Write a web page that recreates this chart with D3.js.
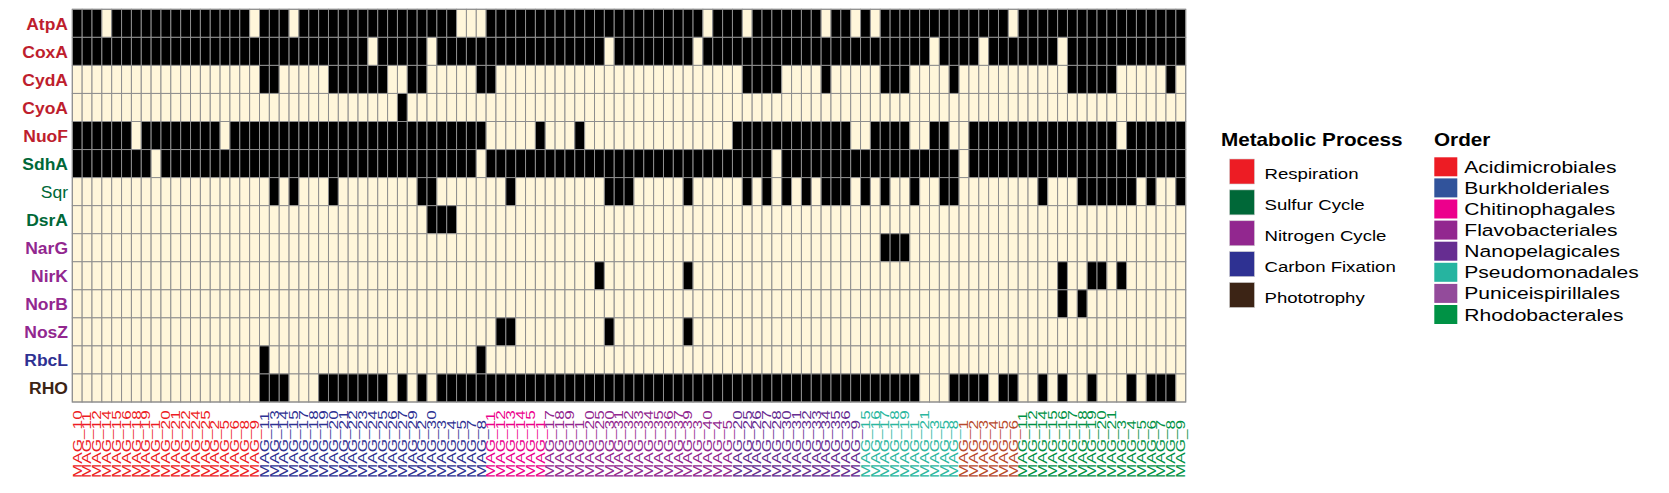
<!DOCTYPE html>
<html>
<head>
<meta charset="utf-8">
<script src="https://cdn.jsdelivr.net/npm/d3@7"></script>
<style>
  body { margin: 0; background: #fff; }
  svg { display: block; }
  text { font-family: "Liberation Sans", Arial, Helvetica, sans-serif; }
</style>
</head>
<body>
<svg id="chart" width="1669" height="493"></svg>
<script>
// genes (rows) and the metabolic process each belongs to
var genes = ["AtpA", "CoxA", "CydA", "CyoA", "NuoF", "SdhA", "Sqr", "DsrA", "NarG", "NirK", "NorB", "NosZ", "RbcL", "RHO"];
var geneProcess = ["Respiration", "Respiration", "Respiration", "Respiration", "Respiration",
                   "Sulfur Cycle", "Sulfur Cycle", "Sulfur Cycle",
                   "Nitrogen Cycle", "Nitrogen Cycle", "Nitrogen Cycle", "Nitrogen Cycle",
                   "Carbon Fixation", "Phototrophy"];

var processes = ["Respiration", "Sulfur Cycle", "Nitrogen Cycle", "Carbon Fixation", "Phototrophy"];
var processColors = ["#ED1C24", "#006838", "#92278F", "#2E3192", "#3C2415"];
var processLabelColors = ["#BE1E2D", "#006838", "#92278F", "#2E3192", "#3C2415"];

var orders = ["Acidimicrobiales", "Burkholderiales", "Chitinophagales", "Flavobacteriales",
              "Nanopelagicales", "Pseudomonadales", "Puniceispirillales", "Rhodobacterales"];
var orderColors = ["#ED1C24", "#31539B", "#EC008C", "#92278F", "#662D91", "#26B4A0", "#934B9B", "#009245"];
var orderLabelColors = ["#ED1C24", "#2E3192", "#EC008C", "#92278F", "#662D91", "#2BB7A0", "#B84A2C", "#009245"];

// MAG labels, one list per order (column order left to right)
var magsByOrder = [
  ["10","11","12","14","15","16","18","19","1","20","21","22","24","25","2","5","6","8","9"],
  ["11","13","14","15","17","18","19","20","21","22","23","24","25","26","27","29","2","30","3","4","5","7","8"],
  ["11","12","13","14","15","1"],
  ["17","18","19","1","20","25","30","31","32","33","34","35","36","37","39","3","40","4","5"],
  ["20","25","26","27","28","30","31","32","33","34","35","36","9"],
  ["15","16","17","18","19","1","21","3","5","8"],
  ["1","2","3","4","5","6"],
  ["11","12","14","15","16","17","18","19","20","21","3","4","5","6","7","8","9"]
];

// presence (1) / absence (0), groups separated by spaces in the order above
var presence = [
  "1110111111111111110 11101111111111111111000 111111 1111111111111111011 1011111110110 1011111111 111110 11111111111111111",
  "1111111111111111111 11111111111011111011111 111111 1111110111111110111 1111111111111 1111111011 110111 11110111111111111",
  "0000000000000000000 11000001111110011000001 100000 0000000000000000000 0111100001000 0011100001 000000 00000111110000010",
  "0000000000000000000 00000000000000100000000 000000 0000000000000000000 0000000000000 0000000000 000000 00000000000000000",
  "1111110111111110111 11111111111111111111111 000001 0001000000000000000 1111111111110 0111100110 011111 11111111110111111",
  "1111111101111111111 11111111111111111111110 111111 1111111111111111111 1111011111111 1111111111 011111 11111111111111111",
  "0000000000000000000 01010001000000001100000 001000 0000001110000010000 0101010101110 1010010011 000000 00100011111101001",
  "0000000000000000000 00000000000000000111000 000000 0000000000000000000 0000000000000 0000000000 000000 00000000000000000",
  "0000000000000000000 00000000000000000000000 000000 0000000000000000000 0000000000000 0011100000 000000 00000000000000000",
  "0000000000000000000 00000000000000000000000 000000 0000010000000010000 0000000000000 0000000000 000000 00001001101000000",
  "0000000000000000000 00000000000000000000000 000000 0000000000000000000 0000000000000 0000000000 000000 00001010000000000",
  "0000000000000000000 00000000000000000000000 011000 0000001000000010000 0000000000000 0000000000 000000 00000000000000000",
  "0000000000000000000 10000000000000000000001 000000 0000000000000000000 0000000000000 0000000000 000000 00000000000000000",
  "0000000000000000000 11100011111110101011111 111111 1111111111111111111 1111111111111 1111110001 111011 00101001000101110"
];

// ---- build columns and cells
var columns = [];
magsByOrder.forEach(function(list, oi) {
  list.forEach(function(n) { columns.push({name: "MAG_" + n, order: oi}); });
});
columns.forEach(function(c, i) { c.i = i; });

var cells = [];
presence.forEach(function(row, gi) {
  row.replace(/ /g, "").split("").forEach(function(v, ci) {
    cells.push({gene: genes[gi], col: ci, value: +v});
  });
});

var svg = d3.select("#chart");

var x = d3.scaleBand().domain(d3.range(columns.length)).range([72.3, 1185.7]);
var y = d3.scaleBand().domain(genes).range([9.3, 402]);
var fill = d3.scaleOrdinal().domain([0, 1]).range(["#FFF6DA", "#000000"]);
var procLabel = d3.scaleOrdinal().domain(processes).range(processLabelColors);

// heatmap cells
svg.append("g").selectAll("rect")
  .data(cells)
  .join("rect")
  .attr("x", function(d) { return x(d.col); })
  .attr("y", function(d) { return y(d.gene); })
  .attr("width", x.bandwidth())
  .attr("height", y.bandwidth())
  .attr("fill", function(d) { return fill(d.value); })
  .attr("stroke", "#8e8e8e")
  .attr("stroke-width", 1);

svg.append("rect")
  .attr("x", x.range()[0]).attr("y", y.range()[0])
  .attr("width", x.range()[1] - x.range()[0])
  .attr("height", y.range()[1] - y.range()[0])
  .attr("fill", "none").attr("stroke", "#8e8e8e").attr("stroke-width", 1);

// row labels
svg.append("g").selectAll("text")
  .data(genes)
  .join("text")
  .attr("transform", function(d) { return "translate(68," + (y(d) + y.bandwidth() / 2 + 6.2) + ") scale(1.03,1)"; })
  .attr("text-anchor", "end")
  .style("font-size", "17px")
  .style("font-weight", function(d) { return d == "Sqr" ? "normal" : "bold"; })
  .attr("fill", function(d, i) { return procLabel(geneProcess[i]); })
  .text(function(d) { return d; });

// column labels
svg.append("g").selectAll("text")
  .data(columns)
  .join("text")
  .attr("transform", function(d) { return "translate(" + (x(d.i) + x.bandwidth() / 2 + 4.3) + ",478) rotate(-90) scale(1.43,1)"; })
  .style("font-size", "12px")
  .attr("fill", function(d) { return orderLabelColors[d.order]; })
  .text(function(d) { return d.name; });

// legend: metabolic process
var leg1 = svg.append("g");
leg1.append("text")
  .attr("transform", "translate(1221,146) scale(1.15,1)")
  .style("font-size", "18px").style("font-weight", "bold")
  .text("Metabolic Process");
var py = d3.scalePoint().domain(processes).range([159, 282.5]);
leg1.selectAll("rect").data(processes).join("rect")
  .attr("x", 1229.5).attr("y", function(d) { return py(d); })
  .attr("width", 25).attr("height", 25)
  .attr("fill", function(d, i) { return processColors[i]; })
  .attr("stroke", "#d0d0d0").attr("stroke-width", 0.6);
leg1.selectAll("text.item").data(processes).join("text")
  .attr("class", "item")
  .attr("transform", function(d) { return "translate(1264.5," + (py(d) + 20) + ") scale(1.2,1)"; })
  .style("font-size", "15.5px")
  .text(function(d) { return d; });

// legend: order
var leg2 = svg.append("g");
leg2.append("text")
  .attr("transform", "translate(1434,146) scale(1.15,1)")
  .style("font-size", "18px").style("font-weight", "bold")
  .text("Order");
var oy = d3.scalePoint().domain(orders).range([157.3, 305]);
leg2.selectAll("rect").data(orders).join("rect")
  .attr("x", 1434.3).attr("y", function(d) { return oy(d); })
  .attr("width", 23).attr("height", 19)
  .attr("fill", function(d, i) { return orderColors[i]; });
leg2.selectAll("text.item").data(orders).join("text")
  .attr("class", "item")
  .attr("transform", function(d) { return "translate(1464.3," + (oy(d) + 15.5) + ") scale(1.24,1)"; })
  .style("font-size", "17px")
  .text(function(d) { return d; });
</script>
</body>
</html>
